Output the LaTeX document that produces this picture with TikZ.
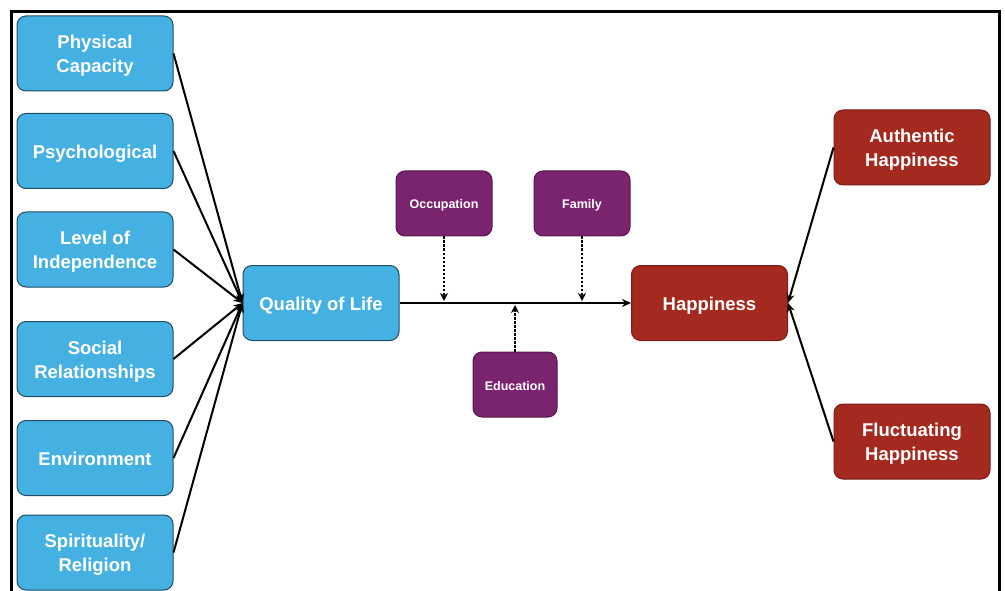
\documentclass[tikz,border=0pt]{standalone}
\usepackage{fontspec}
\setmainfont{Liberation Sans}
\usetikzlibrary{arrows.meta}
\definecolor{qblue}{HTML}{45B1E3}
\definecolor{qblueb}{HTML}{1E4C66}
\definecolor{qpurple}{HTML}{7A236F}
\definecolor{qpurpleb}{HTML}{5A1650}
\definecolor{qred}{HTML}{A4291F}
\definecolor{qredb}{HTML}{7A1E17}
\newcommand\boxtext[1]{\raisebox{-2.5pt}[\height][\depth]{\begin{tabular}{@{}c@{}}#1\end{tabular}}}
\tikzset{
  box/.style={rectangle, rounded corners=9pt, draw, line width=1pt, text=white,
    font=\bfseries\fontsize{18.5}{24}\selectfont, inner sep=0pt},
  bluebox/.style={box, fill=qblue, draw=qblueb, minimum width=156pt, minimum height=75pt},
  redbox/.style={box, fill=qred, draw=qredb, minimum width=156pt, minimum height=75pt},
  purplebox/.style={box, fill=qpurple, draw=qpurpleb, minimum height=65pt,
    font=\bfseries\fontsize{12.5}{15}\selectfont},
  conn/.style={line width=2pt, -{Stealth[length=9pt,width=8pt]}},
  dotconn/.style={line width=2.2pt, dash pattern=on 2.2pt off 1.8pt, -{Stealth[length=8pt,width=8pt]}}
}
\begin{document}
\begin{tikzpicture}[x=1pt,y=-1pt]
\useasboundingbox (0,0) rectangle (1005,591);
\draw[line width=2.2pt] (11.5,600) -- (11.5,11.5) -- (999.5,11.5) -- (999.5,600);

\node[bluebox] (pc)  at (95,53.5)  {\boxtext{Physical\\Capacity}};
\node[bluebox] (psy) at (95,151)   {\boxtext{Psychological}};
\node[bluebox] (loi) at (95,249.5) {\boxtext{Level of\\Independence}};
\node[bluebox] (sr)  at (95,359)   {\boxtext{Social\\Relationships}};
\node[bluebox] (env) at (95,458)   {\boxtext{Environment}};
\node[bluebox] (spr) at (95,552.5) {\boxtext{Spirituality/\\Religion}};

\node[bluebox] (qol) at (321,303) {\boxtext{Quality of Life}};
\node[redbox]  (hap) at (709.5,303) {\boxtext{Happiness}};
\node[redbox]  (auth) at (912,147.5) {\boxtext{Authentic\\Happiness}};
\node[redbox]  (fluc) at (912,441.5) {\boxtext{Fluctuating\\Happiness}};

\node[purplebox, minimum width=96pt] (occ) at (444,203.5) {\boxtext{Occupation}};
\node[purplebox, minimum width=96pt] (fam) at (582,203.5) {\boxtext{Family}};
\node[purplebox, minimum width=84pt] (edu) at (515,384.5) {\boxtext{Education}};

\foreach \s in {pc,psy,loi,sr,env,spr} \draw[conn] (\s.east) -- (qol.west);

\draw[conn] (qol.east) -- (hap.west);
\draw[conn] (auth.west) -- (hap.east);
\draw[conn] (fluc.west) -- (hap.east);

\coordinate (occend) at (occ.south |- 0,301);
\coordinate (famend) at (fam.south |- 0,301);
\coordinate (eduend) at (edu.north |- 0,305);
\draw[dotconn] (occ.south) -- (occend);
\draw[dotconn] (fam.south) -- (famend);
\draw[dotconn] (edu.north) -- (eduend);
\end{tikzpicture}
\end{document}
